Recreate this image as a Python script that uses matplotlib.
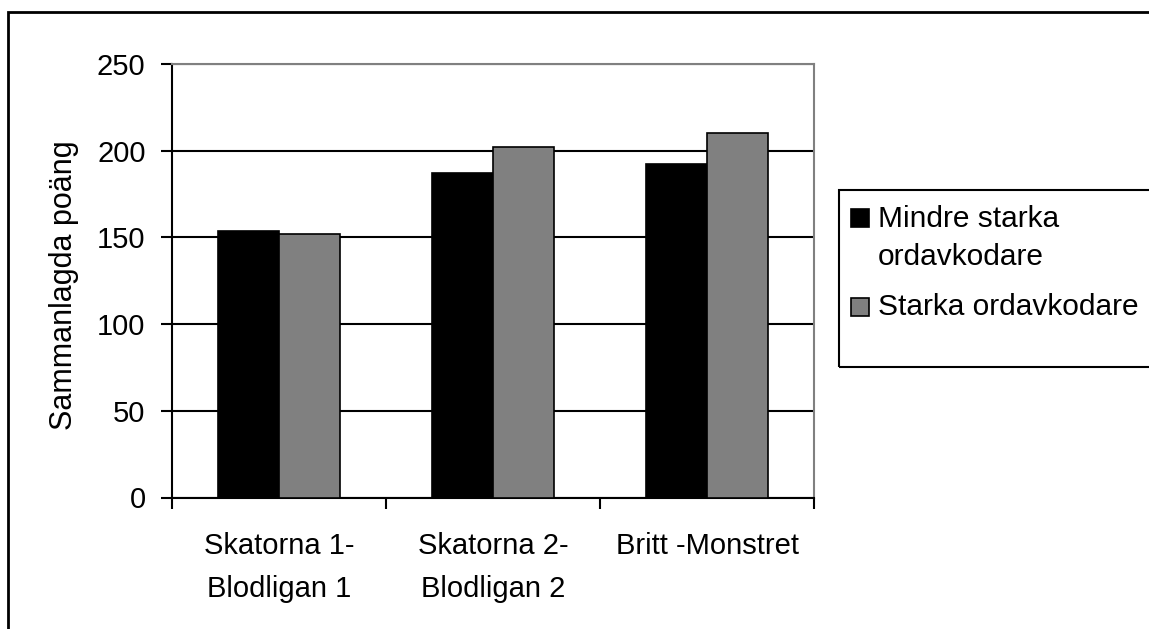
import numpy as np
import matplotlib.pyplot as plt
from matplotlib.patches import Rectangle

plt.rcParams['font.family'] = ['Liberation Sans', 'DejaVu Sans']

categories = ['Skatorna 1-\nBlodligan 1', 'Skatorna 2-\nBlodligan 2', 'Britt -Monstret']
mindre_starka = [153.5, 186.9, 192.5]
starka = [152.0, 201.9, 210.2]
series_names = ['Mindre starka\nordavkodare', 'Starka ordavkodare']
series_colors = ['black', '#808080']
yticks = [0, 50, 100, 150, 200, 250]

W, H = 1149, 629


def fx(px):
    return px / W


def fy(py):
    # pixel rows are counted from the top
    return 1 - py / H


fig = plt.figure(figsize=(W / 100, H / 100), dpi=100)
ax = fig.add_axes([fx(172), fy(497.5), fx(642), 433.5 / H])

x = np.arange(len(categories))
w = 2 / 7
ax.bar(x - w / 2, mindre_starka, w, color=series_colors[0], edgecolor='black', linewidth=1.2, zorder=3)
ax.bar(x + w / 2, starka, w, color=series_colors[1], edgecolor='black', linewidth=1.2, zorder=3)

ax.set_xlim(-0.5, len(categories) - 0.5)
ax.set_ylim(0, 250)
ax.set_yticks(yticks)
ax.yaxis.grid(True, color='black', linewidth=1.5, zorder=1)
ax.set_axisbelow(True)

# category labels sit between the boundary ticks
ax.set_xticks(x)
ax.set_xticklabels(categories, fontsize=21, linespacing=1.68)
ax.tick_params(axis='x', length=0, pad=25)
ax.set_xticks(np.arange(len(categories) + 1) - 0.5, minor=True)
ax.tick_params(axis='x', which='minor', length=8, width=1.5, direction='out')
ax.tick_params(axis='y', length=8, width=1.5, pad=11, labelsize=21)

for side in ['top', 'right']:
    ax.spines[side].set_color('#808080')
    ax.spines[side].set_linewidth(1.5)
for side in ['left', 'bottom']:
    ax.spines[side].set_linewidth(1.5)

ax.set_ylabel('Sammanlagda poäng', fontsize=22)
ax.yaxis.set_label_coords(-0.145, 0.49)

# outer chart frame
fig.patches.append(Rectangle((fx(8), -0.1), 1.2, fy(12) + 0.1,
                             transform=fig.transFigure, fill=False,
                             edgecolor='black', linewidth=2))

# legend box with the swatch next to the first line of each entry
fig.patches.append(Rectangle((fx(839), fy(367)), 0.3, 177 / H,
                             transform=fig.transFigure, fill=False,
                             edgecolor='black', linewidth=1.5))
swatch_tops = [209, 298]
# baseline of the last line of each entry
text_baselines = [265, 315]
for name, color, top, base in zip(series_names, series_colors, swatch_tops, text_baselines):
    fig.patches.append(Rectangle((fx(851), fy(top + 18)), fx(18), 18 / H,
                                 transform=fig.transFigure, facecolor=color,
                                 edgecolor='black', linewidth=1.2))
    fig.text(fx(878), fy(base), name, fontsize=21.5, ha='left', va='baseline',
             linespacing=1.45)

fig.savefig('out.png', dpi=100)
